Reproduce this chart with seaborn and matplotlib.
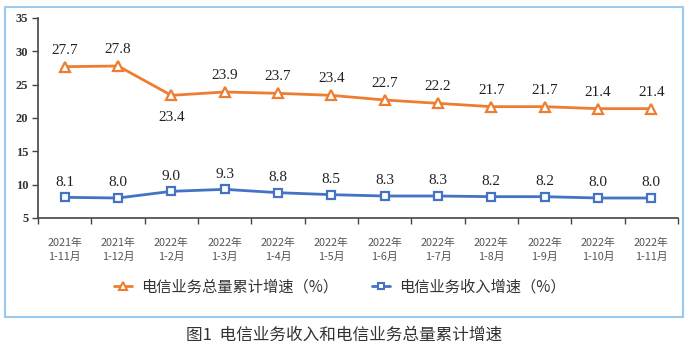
import matplotlib
matplotlib.use("Agg")
import matplotlib.pyplot as plt
import seaborn as sns
import pandas as pd
from matplotlib.patches import Rectangle
from matplotlib.lines import Line2D

categories = ["2021年\n1-11月", "2021年\n1-12月", "2022年\n1-2月", "2022年\n1-3月",
              "2022年\n1-4月", "2022年\n1-5月", "2022年\n1-6月", "2022年\n1-7月",
              "2022年\n1-8月", "2022年\n1-9月", "2022年\n1-10月", "2022年\n1-11月"]
volume_growth = [27.7, 27.8, 23.4, 23.9, 23.7, 23.4, 22.7, 22.2, 21.7, 21.7, 21.4, 21.4]
revenue_growth = [8.1, 8.0, 9.0, 9.3, 8.8, 8.5, 8.3, 8.3, 8.2, 8.2, 8.0, 8.0]
series_names = ["电信业务总量累计增速（%）", "电信业务收入增速（%）"]
y_ticks = [5, 10, 15, 20, 25, 30, 35]
caption = "图1  电信业务收入和电信业务总量累计增速"

sns.set_theme(style="white")
plt.rcParams['font.family'] = ['Noto Sans CJK SC', 'DejaVu Sans']

ORANGE = "#ED7D31"
BLUE = "#4472C4"

fig = plt.figure(figsize=(6.91, 3.49), dpi=100)
ax = fig.add_axes([38/691, (349-218)/349, (678-38)/691, 200/349])

x = list(range(len(categories)))
df = pd.DataFrame({"x": x, "v": volume_growth, "r": revenue_growth})

sns.lineplot(data=df, x="x", y="v", ax=ax, color=ORANGE, lw=2, marker="^",
             markersize=7, markerfacecolor="white", markeredgecolor=ORANGE,
             markeredgewidth=1.6)
sns.lineplot(data=df, x="x", y="r", ax=ax, color=BLUE, lw=2, marker="s",
             markersize=5.5, markerfacecolor="white", markeredgecolor=BLUE,
             markeredgewidth=1.6)

serif = ['Liberation Serif', 'DejaVu Serif']
for i, v in enumerate(volume_growth):
    if i == 2:
        ax.annotate(f"{v:.1f}", (i, v), xytext=(0, -16), textcoords="offset points",
                    ha="center", va="center", fontsize=11, family=serif, color="#222222")
    else:
        ax.annotate(f"{v:.1f}", (i, v), xytext=(0, 12), textcoords="offset points",
                    ha="center", va="center", fontsize=11, family=serif, color="#222222")
for i, v in enumerate(revenue_growth):
    ax.annotate(f"{v:.1f}", (i, v), xytext=(0, 11), textcoords="offset points",
                ha="center", va="center", fontsize=11, family=serif, color="#222222")

ax.set_xlim(-0.5, len(categories) - 0.5)
ax.set_ylim(5, 35)
ax.set_yticks(y_ticks)
ax.set_yticklabels([str(t) for t in y_ticks], family=serif, fontweight="bold",
                   fontsize=9, color="#333333")
ax.set_xticks(x)
ax.set_xticklabels(categories, fontsize=7.8, color="#555555", linespacing=1.5)
ax.set_xticks([i - 0.5 for i in range(len(categories) + 1)], minor=True)
ax.tick_params(axis="x", which="major", bottom=True, length=0, pad=14)
ax.tick_params(axis="x", which="minor", bottom=True, length=4, width=1,
               color="#444444", direction="out")
ax.tick_params(axis="y", which="major", left=True, length=4, width=1,
               color="#444444", direction="out", pad=3)
ax.set_xlabel("")
ax.set_ylabel("")
for s in ["top", "right"]:
    ax.spines[s].set_visible(False)
for s in ["left", "bottom"]:
    ax.spines[s].set_color("#444444")
    ax.spines[s].set_linewidth(1.2)

handles = [
    Line2D([], [], color=ORANGE, lw=2, marker="^", markersize=6,
           markerfacecolor="white", markeredgecolor=ORANGE, markeredgewidth=1.5),
    Line2D([], [], color=BLUE, lw=2, marker="s", markersize=5,
           markerfacecolor="white", markeredgecolor=BLUE, markeredgewidth=1.5),
]
fig.legend(handles, series_names, loc="center", bbox_to_anchor=(340/691, 1 - 287/349),
           ncol=2, frameon=False, fontsize=11, handlelength=1.2, columnspacing=2.2,
           handletextpad=0.6, labelcolor="#333333")

fig.patches.append(Rectangle((5/691, 32/349), (683-5)/691, (342-32)/349,
                             transform=fig.transFigure, fill=False,
                             edgecolor="#9CC9EE", lw=1.5))

fig.text(344/691, 1 - 335/349, caption, ha="center", va="center", fontsize=12,
         color="#333333")

fig.savefig("out.png", dpi=100)
